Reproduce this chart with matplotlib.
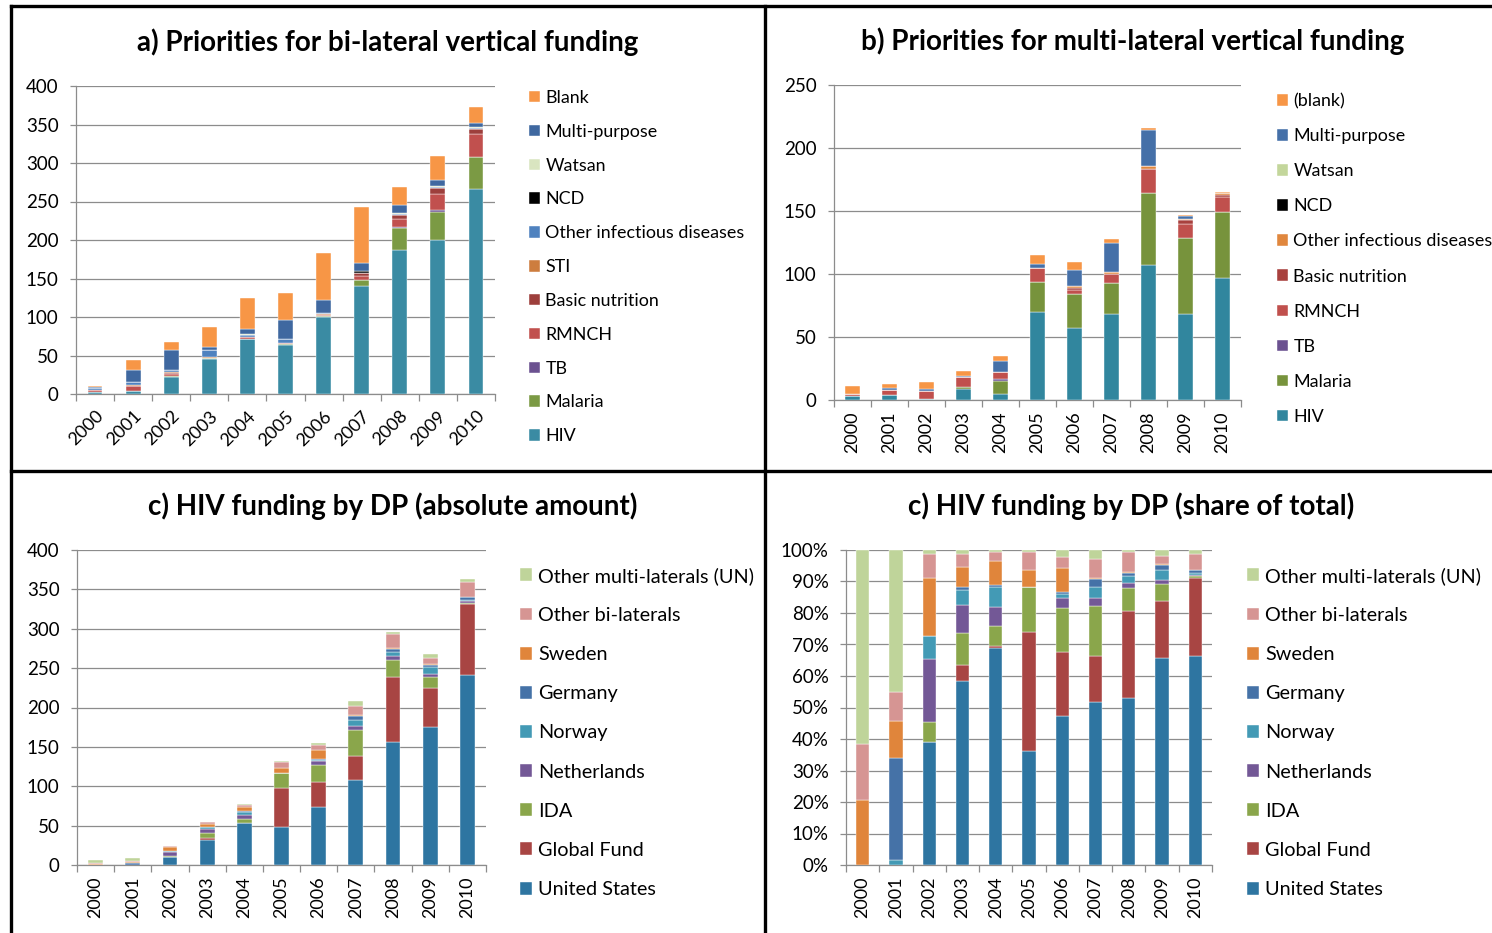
import numpy as np
import matplotlib
matplotlib.use('Agg')
from matplotlib import pyplot as plt
from matplotlib.lines import Line2D
from matplotlib.ticker import FuncFormatter

plt.rcParams['font.family'] = ['Lato', 'DejaVu Sans']

years = [str(y) for y in range(2000, 2011)]

# a) bi-lateral vertical funding, bottom -> top
a_hiv = [3, 4, 22, 45, 71, 63, 100, 140, 187, 200, 266]
a_malaria = [0, 0, 1.5, 1.5, 0, 1.5, 1.5, 8, 29, 37, 41.5]
a_tb = [0, 0, 0.5, 0, 0.5, 0, 0, 0, 0.5, 2, 0.5]
a_rmnch = [2, 6, 2.5, 0, 2, 1.5, 1, 5, 11, 21, 29.5]
a_nutrition = [0.5, 1, 1, 0, 0.5, 0, 0, 3.5, 5, 7, 6.5]
a_sti = [0, 0.5, 0.5, 1.5, 0, 0.5, 1.5, 0, 0, 0, 0]
a_other_inf = [2, 4, 3, 9, 3, 5, 1.5, 0.5, 1.5, 1.5, 1.5]
a_ncd = [0, 0, 0, 0, 0, 0, 0, 3, 0, 0, 0]
a_watsan = [0, 0, 0, 0, 1, 0, 0, 0, 1.5, 1, 1.5]
a_multi = [2, 16, 26, 4, 6.5, 25, 16.5, 9.5, 9.5, 9, 5]
a_blank = [1.5, 13, 10, 26, 40, 35, 61.5, 73, 24, 30, 21]

# b) multi-lateral vertical funding
b_hiv = [3.2, 4, 1, 9, 5, 69.5, 57.5, 68.5, 107, 68.5, 97]
b_malaria = [0, 0, 0, 1, 10, 24.5, 26.5, 24.5, 57, 60, 52]
b_tb = [0, 0, 0, 0, 1.3, 0, 0, 0, 0, 0, 0]
b_rmnch = [1.6, 4, 6, 8, 6, 11, 3.5, 7, 19, 11, 12]
b_nutrition = [0, 0, 0, 0, 0, 0, 1.5, 0, 0, 3, 2]
b_other_inf = [0, 0, 0, 0, 0, 0, 1.5, 1.3, 3, 1.3, 1.3]
b_ncd = [0] * 11
b_watsan = [0] * 11
b_multi = [0, 1.5, 2, 1, 9, 3, 13, 23.5, 28.5, 2, 0]
b_blank = [6.4, 3, 5, 4, 4, 7, 6, 3, 1, 1, 1]

# c) HIV funding by DP
c_us = [0, 0, 9.6, 31.9, 53, 47.8, 73.7, 107.8, 156.7, 175.6, 240.7]
c_gf = [0, 0, 0, 2.8, 0.5, 49.9, 31.4, 30.4, 81.9, 49, 90.8]
c_ida = [0, 0, 1.6, 5.6, 4.9, 18.6, 22, 33, 21.8, 14.2, 1.8]
c_neth = [0, 0, 4.9, 4.9, 4.5, 0, 4.5, 5.8, 4.7, 3.5, 1.8]
c_norway = [0, 0.14, 1.8, 2.6, 4.9, 0, 2, 6.7, 5.9, 8.6, 1.8]
c_germany = [0, 2.75, 0, 0.4, 0.6, 0, 1.4, 5.4, 3.5, 3.5, 3.3]
c_sweden = [1.23, 1.0, 4.5, 3.5, 5.8, 7.3, 11.5, 0.8, 0.6, 0.8, 0.4]
c_other_bi = [1.07, 0.77, 1.9, 2.3, 2.2, 7.5, 5.5, 12.5, 18.6, 7.5, 18.4]
c_un = [3.7, 3.84, 0.3, 0.7, 0.5, 0.9, 3.5, 6.1, 2.1, 4.8, 4.6]

a_names = ['HIV', 'Malaria', 'TB', 'RMNCH', 'Basic nutrition', 'STI',
           'Other infectious diseases', 'NCD', 'Watsan', 'Multi-purpose', 'Blank']
a_colors = ['#3a8ba3', '#7b9a44', '#6b5190', '#c1504e', '#9d3f3c', '#cd7d3e',
            '#4f82bf', '#000000', '#d9e5c0', '#3f68a0', '#f79646']
b_names = ['HIV', 'Malaria', 'TB', 'RMNCH', 'Basic nutrition', 'Other infectious diseases',
           'NCD', 'Watsan', 'Multi-purpose', '(blank)']
b_colors = ['#31869e', '#77933c', '#6b5190', '#c0504d', '#a8413e', '#e0873e',
            '#000000', '#c3d69b', '#4570a8', '#f79646']
c_names = ['United States', 'Global Fund', 'IDA', 'Netherlands', 'Norway', 'Germany',
           'Sweden', 'Other bi-laterals', 'Other multi-laterals (UN)']
c_colors = ['#2e75a1', '#a84543', '#8aa64b', '#735896', '#439ab5', '#4572a7',
            '#e0853b', '#d69593', '#bfd49a']

GRID = '#8c8c8c'
W, H = 1492, 933


def fx(px):
    return px / W


def fy(py):
    return 1 - py / H


def make_axes(fig, left, right, top, bottom):
    return fig.add_axes([fx(left), fy(bottom), fx(right) - fx(left), fy(top) - fy(bottom)])


def stacked(ax, series, colors, names, width):
    x = np.arange(len(years))
    bottom = np.zeros(len(years))
    handles = []
    for vals, col, name in zip(series, colors, names):
        vals = np.array(vals, dtype=float)
        b = ax.bar(x, vals, width, bottom=bottom, color=col, label=name,
                   edgecolor='white', linewidth=0.3, zorder=3)
        handles.append(b)
        bottom += vals
    return handles


def style(ax, ymax, ystep, rot, fmt=None):
    n = len(years)
    ax.set_xlim(-0.5, n - 0.5)
    ax.set_ylim(0, ymax)
    ax.set_yticks(np.arange(0, ymax + ystep / 2, ystep))
    if fmt:
        ax.yaxis.set_major_formatter(FuncFormatter(fmt))
    ax.grid(axis='y', color=GRID, linewidth=0.9, zorder=0)
    for s in ['top', 'right']:
        ax.spines[s].set_visible(False)
    for s in ['left', 'bottom']:
        ax.spines[s].set_color(GRID)
        ax.spines[s].set_linewidth(0.9)
    ax.set_xticks(np.arange(n))
    ax.set_xticks(np.arange(-0.5, n, 1), minor=True)
    ax.tick_params(axis='x', which='major', length=0, labelsize=13, pad=8)
    ax.tick_params(axis='x', which='minor', length=5, color=GRID, width=0.9)
    ax.tick_params(axis='y', length=4.5, color=GRID, width=0.9, labelsize=13.5, pad=8)
    if rot == 45:
        ax.set_xticklabels(years, rotation=45, ha='right', rotation_mode='anchor')
        ax.tick_params(axis='x', which='major', pad=10)
    else:
        ax.set_xticklabels(years, rotation=90, ha='center', va='top')


def legend(ax, handles, x, y, size, spacing):
    ax.legend(handles[::-1], [h.get_label() for h in handles[::-1]],
              loc='upper left', bbox_to_anchor=(fx(x), fy(y)),
              bbox_transform=ax.figure.transFigure, frameon=False,
              fontsize=size, handlelength=0.62, handleheight=0.62,
              handletextpad=0.3, labelspacing=spacing, borderaxespad=0,
              borderpad=0)


fig = plt.figure(figsize=(14.92, 9.33), dpi=100)

# a)
ax = make_axes(fig, 76, 495, 86, 394)
h = stacked(ax, [a_hiv, a_malaria, a_tb, a_rmnch, a_nutrition, a_sti, a_other_inf,
                 a_ncd, a_watsan, a_multi, a_blank], a_colors, a_names, 0.39)
style(ax, 400, 50, 45)
legend(ax, h, 529, 90, 12.9, 0.995)
fig.text(fx(388), fy(42), 'a) Priorities for bi-lateral vertical funding',
         ha='center', va='center', fontsize=20, fontweight='bold')

# b)
ax = make_axes(fig, 834, 1241, 85, 400)
h = stacked(ax, [b_hiv, b_malaria, b_tb, b_rmnch, b_nutrition, b_other_inf,
                 b_ncd, b_watsan, b_multi, b_blank], b_colors, b_names, 0.4)
style(ax, 250, 50, 90)
legend(ax, h, 1277, 93, 12.9, 1.065)
fig.text(fx(1133), fy(41), 'b) Priorities for multi-lateral vertical funding',
         ha='center', va='center', fontsize=20, fontweight='bold')

# c) absolute
c_series = [c_us, c_gf, c_ida, c_neth, c_norway, c_germany, c_sweden, c_other_bi, c_un]
ax = make_axes(fig, 77, 486, 550, 865)
h = stacked(ax, c_series, c_colors, c_names, 0.4)
style(ax, 400, 50, 90)
legend(ax, h, 520, 567, 14.3, 1.115)
fig.text(fx(393), fy(506), 'c) HIV funding by DP (absolute amount)',
         ha='center', va='center', fontsize=20, fontweight='bold')

# c) share of total
c_arr = np.array(c_series, dtype=float)
c_share = c_arr / c_arr.sum(axis=0) * 100
ax = make_axes(fig, 846, 1212, 550, 865)
h = stacked(ax, list(c_share), c_colors, c_names, 0.4)
style(ax, 100, 10, 90, fmt=lambda v, p: '{:d}%'.format(int(round(v))))
legend(ax, h, 1247, 567, 14.3, 1.115)
fig.text(fx(1131), fy(506), 'c) HIV funding by DP (share of total)',
         ha='center', va='center', fontsize=20, fontweight='bold')

# panel borders
lw = 2.4
fig.add_artist(Line2D([fx(11), fx(11)], [0, fy(6)], transform=fig.transFigure, color='black', lw=lw))
fig.add_artist(Line2D([fx(11), 1], [fy(6), fy(6)], transform=fig.transFigure, color='black', lw=lw))
fig.add_artist(Line2D([fx(765), fx(765)], [0, fy(6)], transform=fig.transFigure, color='black', lw=lw))
fig.add_artist(Line2D([fx(11), 1], [fy(471), fy(471)], transform=fig.transFigure, color='black', lw=lw))

fig.savefig('out.png', dpi=100)
